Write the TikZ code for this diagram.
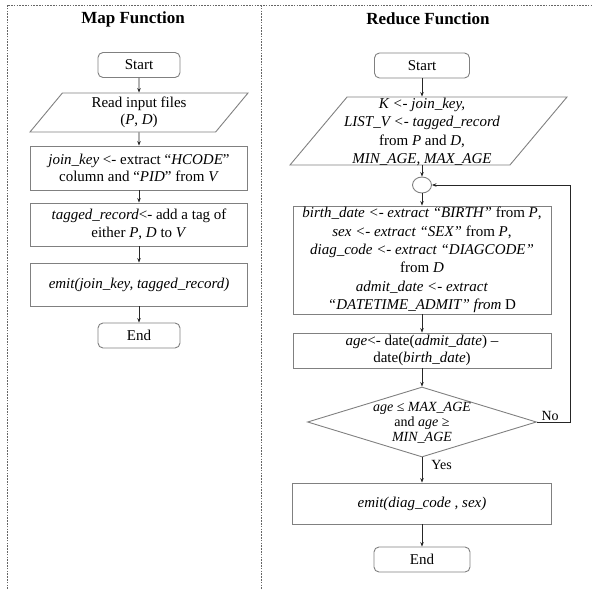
\documentclass[tikz,border=0pt]{standalone}
\usepackage{fontspec}
\setmainfont{Liberation Serif}
\usetikzlibrary{arrows.meta,shapes.geometric}

\begin{document}
\begin{tikzpicture}[x=1pt, y=-1pt,
    frame/.style={draw=gray!80!black, line width=0.7pt, dash pattern=on 1.6pt off 1.2pt},
    title/.style={font=\bfseries\fontsize{17}{20}\selectfont},
    txt/.style={align=center, inner sep=0pt, font=\fontsize{15}{17.5}\selectfont},
    box/.style={txt, draw=gray, line width=0.9pt, fill=white, minimum width=217pt},
    term/.style={box, rounded corners=5pt, minimum width=82pt, minimum height=25pt},
    io/.style={box, trapezium, trapezium stretches body, trapezium left angle=44, trapezium right angle=136},
    decision/.style={draw=gray, line width=0.9pt, diamond, inner sep=0pt, minimum width=229pt, minimum height=70pt},
    loopnode/.style={draw=gray, line width=0.9pt, ellipse, inner sep=0pt, minimum width=19pt, minimum height=16pt},
    arr/.style={draw=black!85, line width=0.7pt, -{Stealth[length=4.5pt, width=3.5pt]}},
    lbl/.style={font=\fontsize{14}{16}\selectfont, inner sep=1pt}]

    \useasboundingbox (0,0) rectangle (592,589);

    % Dotted frame and column separator
    \draw[frame] (7,589) -- (7,5) -- (592,5);
    \draw[frame] (261,5) -- (261,589);

    % Map function
    \node[title] (mtitle) at (133,19) {Map Function};
    \node[term] (mstart) at (139,65) {Start};
    \node[io, minimum width=218pt, minimum height=39pt] (mread) at (139,112.5) {Read input files\\(\textit{P}, \textit{D})};
    \node[box, minimum height=44pt] (mkey) at (139,168) {\textit{join\_key} <- extract “\textit{HCODE}”\\column and “\textit{PID}” from \textit{V}};
    \node[box, minimum height=43pt] (mtag) at (139,224.5) {\textit{tagged\_record}<- add a tag of\\either \textit{P}, \textit{D} to \textit{V}};
    \node[box, minimum height=43pt] (memit) at (139,284.5) {\textit{emit(join\_key, tagged\_record)}};
    \node[term] (mend) at (139,335.5) {End};

    \foreach \a/\b in {mstart/mread, mread/mkey, mkey/mtag, mtag/memit, memit/mend}
        \draw[arr] (\a) -- (\b);

    % Reduce function
    \node[title] (rtitle) at (428,19) {Reduce Function};
    \node[term, minimum width=95pt] (rstart) at (422,65.5) {Start};
    \node[io, minimum width=277pt, trapezium left angle=50, trapezium right angle=130] (rread) at (428.5,131) {\rule{0pt}{68pt}};
    \node[txt, font=\fontsize{15}{18.3}\selectfont] (rreadtxt) at (422,132) {\textit{K <- join\_key,}\\\textit{LIST\_V <- tagged\_record}\\from \textit{P} and \textit{D},\\\textit{MIN\_AGE, MAX\_AGE}};
    \node[loopnode] (rloop) at (422,185) {};
    \node[box, minimum width=258pt, minimum height=108pt, font=\fontsize{15}{18.3}\selectfont] (rext) at (422,260) {\textit{birth\_date <- extract “BIRTH”} from \textit{P},\\\textit{sex <- extract “SEX”} from \textit{P},\\\textit{diag\_code <- extract “DIAGCODE”}\\from \textit{D}\\\textit{admit\_date <- extract}\\\textit{“DATETIME\_ADMIT” from} D};
    \node[box, minimum width=258pt, minimum height=35pt] (rage) at (422,350.5) {\textit{age}<- date(\textit{admit\_date}) –\\date(\textit{birth\_date})};
    \node[decision] (rdec) at (422,422) {};
    \node[txt, font=\fontsize{14}{15}\selectfont] (rdectxt) at (422,423) {\textit{age} ≤ \textit{MAX\_AGE}\\and \textit{age} ≥\\\textit{MIN\_AGE}};
    \node[box, minimum width=259pt, minimum height=41pt] (remit) at (422,503.5) {\textit{emit(diag\_code , sex)}};
    \node[term, minimum width=96pt] (rend) at (422,559.5) {End};
    \coordinate (rback) at (570,422);

    \draw[arr] (rstart) -- (rstart |- rread.north);
    \draw[arr] (rloop |- rread.south) -- (rloop);
    \foreach \a/\b in {rloop/rext, rext/rage, rage/rdec, remit/rend}
        \draw[arr] (\a) -- (\b);
    \draw[arr] (rdec) -- node[lbl, right, pos=0.3, xshift=8pt] (ryes) {Yes} (remit);

    % No branch back to the merge point
    \draw[arr] (rdec.east) -- node[lbl, above, pos=0.4] (rno) {No} (rback) |- (rloop.east);
\end{tikzpicture}
\end{document}
